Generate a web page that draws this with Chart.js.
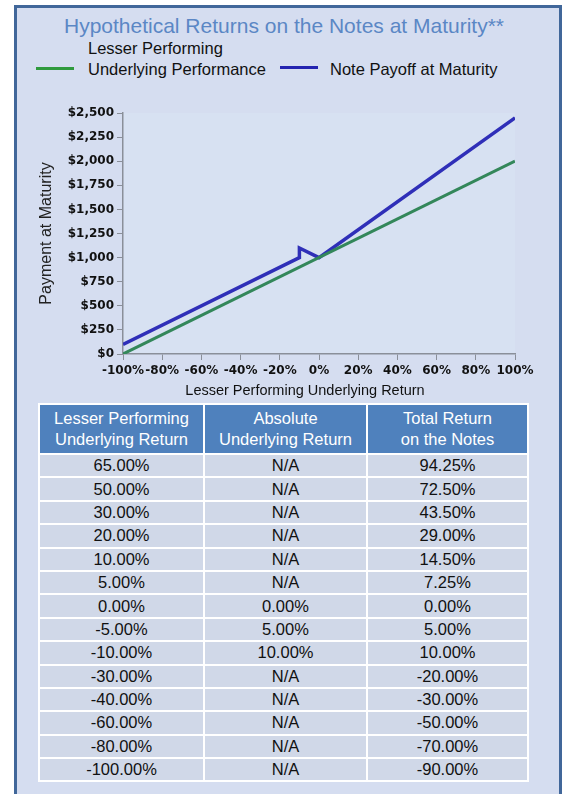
<!DOCTYPE html>
<html>
<head>
<meta charset="utf-8">
<script src="https://cdn.jsdelivr.net/npm/chart.js@4.4.1/dist/chart.umd.min.js"></script>
<style>
    html, body { margin: 0; padding: 0; background: #ffffff; }
    body { width: 568px; height: 794px; position: relative; overflow: hidden; font-family: 'Liberation Sans', Arial, sans-serif; }
    .frame { position: absolute; left: 14px; top: 5px; width: 542px; height: 790px; background: #d5ddf0; border: 3px solid #41679a; }
    .title { position: absolute; left: 0; top: 14px; width: 568px; text-align: center; font-size: 21px; color: #5b87c5; }
    .legend { position: absolute; font-size: 16.5px; color: #111; line-height: 21px; }
    .swatch { position: absolute; height: 3px; width: 38px; }
    .xtitle { position: absolute; left: 105px; width: 400px; top: 382px; text-align: center; font-size: 14.5px; color: #111; }
    #chartBox { position: absolute; left: 0; top: 90px; }
    table { position: absolute; left: 38px; top: 403px; width: 489px; border-collapse: separate; border-spacing: 2px; font-size: 16.5px; background: #ffffff; table-layout: fixed; }
    th { background: #4f81bd; color: #fff; font-weight: normal; line-height: 21px; padding: 3px 0 3px; }
    td { background: #d0d8e8; color: #111; text-align: center; height: 21.4px; padding: 0; }
</style>
</head>
<body>
<div class="frame"></div>
<div class="title">Hypothetical Returns on the Notes at Maturity**</div>
<div class="swatch" style="left:36px; top:67px; background:#2f9a3e;"></div>
<div class="legend" style="left:88px; top:38px;">Lesser Performing<br>Underlying Performance</div>
<div class="swatch" style="left:280px; top:66px; background:#2424b0;"></div>
<div class="legend" style="left:330px; top:59px;">Note Payoff at Maturity</div>
<div id="chartBox"><canvas id="payoffChart" width="568" height="320"></canvas></div>
<div class="xtitle">Lesser Performing Underlying Return</div>
<table id="returnsTable">
    <colgroup><col style="width:163px"><col style="width:161px"><col style="width:159px"></colgroup>
    <thead>
        <tr><th>Lesser Performing<br>Underlying Return</th><th>Absolute<br>Underlying Return</th><th>Total Return<br>on the Notes</th></tr>
    </thead>
    <tbody></tbody>
</table>
<script>
// Chart series (x = lesser performing underlying return in %, y = payment in $)
const underlyingReturn = [-100, 100];
const underlyingPayment = [0, 2000];
const noteReturn = [-100, -10, -10, 0, 100];
const notePayment = [100, 1000, 1100, 1000, 2450];

// Table columns
const tableReturn = ['65.00%', '50.00%', '30.00%', '20.00%', '10.00%', '5.00%', '0.00%', '-5.00%', '-10.00%', '-30.00%', '-40.00%', '-60.00%', '-80.00%', '-100.00%'];
const tableAbsolute = ['N/A', 'N/A', 'N/A', 'N/A', 'N/A', 'N/A', '0.00%', '5.00%', '10.00%', 'N/A', 'N/A', 'N/A', 'N/A', 'N/A'];
const tableTotal = ['94.25%', '72.50%', '43.50%', '29.00%', '14.50%', '7.25%', '0.00%', '5.00%', '10.00%', '-20.00%', '-30.00%', '-50.00%', '-70.00%', '-90.00%'];

function toPoints(xs, ys) {
    return xs.map((x, i) => ({ x: x, y: ys[i] }));
}

function buildTable() {
    const body = document.querySelector('#returnsTable tbody');
    tableReturn.forEach((r, i) => {
        const tr = document.createElement('tr');
        [r, tableAbsolute[i], tableTotal[i]].forEach(v => {
            const td = document.createElement('td');
            td.textContent = v;
            tr.appendChild(td);
        });
        body.appendChild(tr);
    });
}

// light fill behind the plot area
const plotBackground = {
    id: 'plotBackground',
    beforeDraw(chart) {
        const a = chart.chartArea;
        const ctx = chart.ctx;
        ctx.save();
        ctx.fillStyle = '#d7e1f2';
        ctx.fillRect(a.left, a.top, a.right - a.left, a.bottom - a.top);
        ctx.restore();
    }
};

function initChart() {
    const ctx = document.getElementById('payoffChart');
    const tickFont = { family: 'DejaVu Sans', size: 12, weight: 'bold' };
    const axisColor = '#8a8f99';

    new Chart(ctx, {
        type: 'line',
        data: {
            datasets: [
                {
                    label: 'Lesser Performing Underlying Performance',
                    data: toPoints(underlyingReturn, underlyingPayment),
                    borderColor: '#33875a',
                    borderWidth: 3,
                    pointRadius: 0,
                    tension: 0
                },
                {
                    label: 'Note Payoff at Maturity',
                    data: toPoints(noteReturn, notePayment),
                    borderColor: '#2f2fb8',
                    borderWidth: 3.5,
                    pointRadius: 0,
                    tension: 0
                }
            ]
        },
        options: {
            responsive: false,
            animation: false,
            layout: { padding: { top: 23, right: 53, left: 0, bottom: 0 } },
            plugins: {
                legend: { display: false },
                tooltip: { enabled: false }
            },
            scales: {
                x: {
                    type: 'linear',
                    min: -100,
                    max: 100,
                    afterFit: (scale) => { scale.height = 56; },
                    ticks: {
                        stepSize: 20,
                        autoSkip: false,
                        maxRotation: 0,
                        padding: 4,
                        color: '#111',
                        font: tickFont,
                        callback: (v) => v + '%'
                    },
                    grid: { drawOnChartArea: false, tickLength: 6, color: axisColor },
                    border: { color: axisColor, width: 1.5 }
                },
                y: {
                    min: 0,
                    max: 2500,
                    afterFit: (scale) => { scale.width = 123; },
                    ticks: {
                        stepSize: 250,
                        padding: 3,
                        color: '#111',
                        font: tickFont,
                        callback: (v) => '$' + v.toLocaleString('en-US')
                    },
                    grid: { drawOnChartArea: false, tickLength: 6, color: axisColor },
                    border: { color: axisColor, width: 1.5 },
                    title: {
                        display: true,
                        text: 'Payment at Maturity',
                        color: '#222',
                        font: { family: 'Liberation Sans', size: 16 },
                        padding: { top: 37, bottom: 0 }
                    }
                }
            }
        },
        plugins: [plotBackground]
    });
}

document.addEventListener('DOMContentLoaded', function() {
    buildTable();
    if (typeof Chart !== 'undefined') {
        initChart();
    } else {
        console.error('Chart.js not loaded');
    }
});
</script>
</body>
</html>
